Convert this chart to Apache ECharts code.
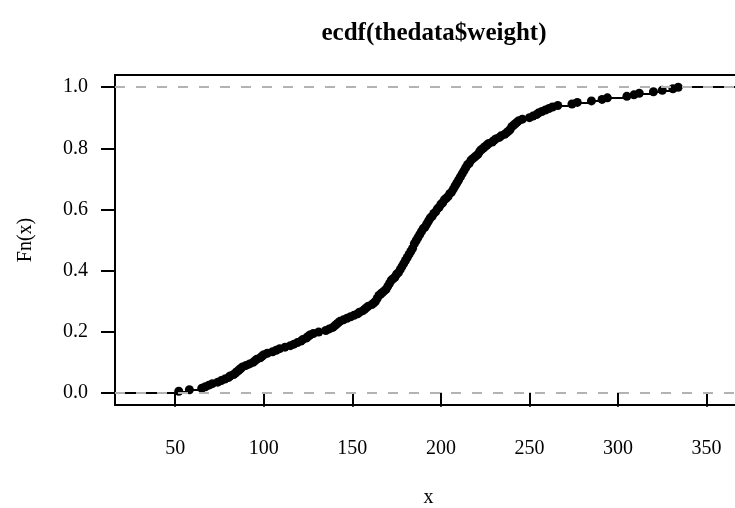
<!DOCTYPE html>
<html>
<head>
<meta charset="utf-8">
<script src="https://cdn.jsdelivr.net/npm/echarts@6/dist/echarts.min.js"></script>
<style>html,body{margin:0;padding:0;background:#fff}#c{width:735px;height:508px}</style>
</head>
<body>
<div id="c"></div>
<script>
// sorted sample values
const weights = [
  52, 58, 65, 67, 69, 71, 74, 76, 78, 80,
  81, 83, 84, 85, 86, 87, 88, 90, 92, 94,
  95, 96, 98, 99, 100, 102, 105, 107, 109, 112,
  115, 117, 119, 121, 122, 124, 125, 126, 128, 131,
  135, 137, 139, 140, 141, 142, 143, 145, 147, 149,
  151, 153, 154, 156, 157, 158, 159, 161, 162, 163,
  164, 164, 165, 165, 166, 167, 168, 169, 170, 170,
  171, 171, 172, 172, 173, 174, 175, 175, 176, 177,
  177, 178, 178, 179, 179, 180, 180, 181, 181, 182,
  182, 183, 183, 184, 184, 185, 185, 185, 186, 186,
  187, 187, 188, 188, 189, 189, 190, 190, 191, 192,
  192, 193, 193, 194, 194, 195, 196, 196, 197, 198,
  198, 199, 200, 200, 201, 202, 202, 203, 204, 205,
  205, 206, 207, 207, 208, 208, 209, 209, 210, 210,
  211, 211, 212, 212, 213, 213, 214, 214, 215, 215,
  216, 217, 217, 218, 219, 220, 221, 222, 222, 223,
  224, 225, 226, 227, 229, 230, 231, 233, 234, 236,
  237, 238, 239, 240, 240, 241, 242, 243, 244, 246,
  250, 252, 254, 255, 257, 259, 261, 263, 266, 274,
  277, 285, 291, 294, 305, 309, 312, 320, 325, 331, 334
];
const xTicks = [50, 100, 150, 200, 250, 300, 350];
const yTicks = [0, 0.2, 0.4, 0.6, 0.8, 1.0];
const refLines = [0, 1];
const xRange = [16, 370];
const yRange = [-0.04, 1.04];

// ECDF knots
const sorted = weights.slice().sort((a, b) => a - b);
const n = sorted.length;
const knots = [];
const fvals = [];
sorted.forEach((v, i) => {
  if (knots.length && knots[knots.length - 1] === v) {
    fvals[fvals.length - 1] = (i + 1) / n;
  } else {
    knots.push(v);
    fvals.push((i + 1) / n);
  }
});
const points = knots.map((k, i) => [k, fvals[i]]);
const segs = [{coords: [[xRange[0], 0], [knots[0], 0]]}];
for (let i = 0; i < knots.length; i++) {
  const xe = i < knots.length - 1 ? knots[i + 1] : xRange[1];
  segs.push({coords: [[knots[i], fvals[i]], [xe, fvals[i]]]});
}

const font = 'Liberation Serif';
const chart = echarts.init(document.getElementById('c'), null, {renderer: 'canvas'});
chart.setOption({
  animation: false,
  backgroundColor: '#fff',
  title: {
    text: 'ecdf(thedata$weight)',
    left: 429, top: 16, textAlign: 'center',
    textStyle: {fontFamily: font, fontWeight: 'bold', fontSize: 25, color: '#000'}
  },
  grid: {
    left: 115, top: 75, width: 627, height: 330,
    outerBoundsMode: 'none', containLabel: false,
    show: true, borderColor: '#000', borderWidth: 2, backgroundColor: 'transparent'
  },
  xAxis: {
    type: 'value', min: xRange[0], max: xRange[1],
    name: 'x', nameLocation: 'middle', nameGap: 83,
    nameTextStyle: {fontFamily: font, fontSize: 20, color: '#000'},
    axisLine: {show: false},
    axisTick: {show: true, customValues: xTicks, length: 14, inside: false,
      lineStyle: {color: '#000', width: 2}},
    axisLabel: {customValues: xTicks, margin: 34,
      fontFamily: font, fontSize: 20, color: '#000'},
    splitLine: {show: false}
  },
  yAxis: {
    type: 'value', min: yRange[0], max: yRange[1],
    name: 'Fn(x)', nameLocation: 'middle', nameGap: 79, nameRotate: 90,
    nameTextStyle: {fontFamily: font, fontSize: 20, color: '#000'},
    axisLine: {show: false},
    axisTick: {show: true, customValues: yTicks, length: 14, inside: false,
      lineStyle: {color: '#000', width: 2}},
    axisLabel: {customValues: yTicks, margin: 27,
      formatter: v => v.toFixed(1),
      fontFamily: font, fontSize: 20, color: '#000'},
    splitLine: {show: false}
  },
  series: [
    {
      type: 'lines', coordinateSystem: 'cartesian2d', polyline: false,
      data: segs, silent: true, z: 2,
      lineStyle: {color: '#000', width: 2, opacity: 1}
    },
    {
      type: 'scatter', data: points, symbol: 'circle', symbolSize: 9,
      itemStyle: {color: '#000', opacity: 1}, silent: true, z: 3
    },
    {
      type: 'line', data: [], z: 5,
      markLine: {
        silent: true, symbol: ['none', 'none'], label: {show: false},
        lineStyle: {color: '#b3b3b3', type: [10, 11], width: 2},
        data: refLines.map(v => ({yAxis: v}))
      }
    }
  ]
});
</script>
</body>
</html>
